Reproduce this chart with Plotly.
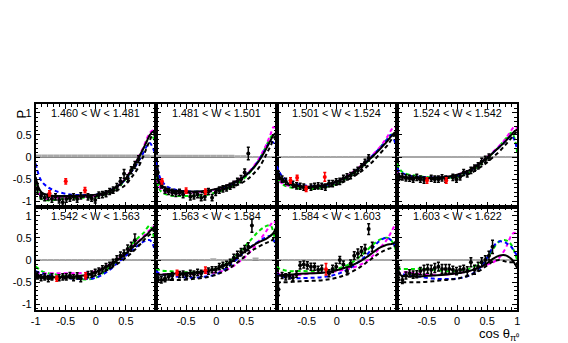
import plotly.graph_objects as go

# W bins (one panel each)
W_bins = ["1.460 < W < 1.481", "1.481 < W < 1.501", "1.501 < W < 1.524", "1.524 < W < 1.542",
          "1.542 < W < 1.563", "1.563 < W < 1.584", "1.584 < W < 1.603", "1.603 < W < 1.622"]

cos_curve = [-1.0, -0.95, -0.9, -0.8, -0.7, -0.6, -0.4, -0.2, 0.0, 0.2, 0.4, 0.5, 0.6, 0.7, 0.8, 0.85, 0.9, 0.95, 1.0]

# model curves, one list per panel
curve_solid = [
    [-0.45, -0.7, -0.8, -0.86, -0.88, -0.88, -0.88, -0.87, -0.85, -0.78, -0.62, -0.48, -0.28, -0.05, 0.22, 0.36, 0.5, 0.57, 0.5],
    [-0.3, -0.55, -0.65, -0.73, -0.76, -0.77, -0.78, -0.77, -0.72, -0.63, -0.5, -0.4, -0.27, -0.1, 0.12, 0.25, 0.38, 0.5, 0.55],
    [-0.35, -0.45, -0.52, -0.6, -0.64, -0.66, -0.67, -0.63, -0.55, -0.42, -0.22, -0.1, 0.02, 0.15, 0.3, 0.38, 0.46, 0.54, 0.58],
    [-0.4, -0.43, -0.45, -0.46, -0.47, -0.47, -0.47, -0.45, -0.4, -0.3, -0.12, -0.02, 0.1, 0.22, 0.35, 0.43, 0.5, 0.58, 0.62],
    [-0.35, -0.36, -0.37, -0.38, -0.39, -0.39, -0.38, -0.35, -0.27, -0.14, 0.04, 0.15, 0.27, 0.4, 0.52, 0.58, 0.65, 0.72, 0.78],
    [-0.33, -0.33, -0.33, -0.32, -0.31, -0.3, -0.29, -0.26, -0.2, -0.08, 0.12, 0.22, 0.32, 0.4, 0.46, 0.5, 0.55, 0.62, 0.78],
    [-0.35, -0.35, -0.34, -0.33, -0.32, -0.31, -0.3, -0.28, -0.23, -0.15, -0.02, 0.07, 0.17, 0.27, 0.33, 0.35, 0.36, 0.38, 0.45],
    [-0.2, -0.33, -0.36, -0.37, -0.37, -0.37, -0.35, -0.33, -0.3, -0.25, -0.15, -0.07, 0.03, 0.1, 0.11, 0.08, 0.03, -0.06, -0.18],
]
curve_dashed = [
    [-0.5, -0.72, -0.82, -0.88, -0.9, -0.9, -0.9, -0.9, -0.88, -0.83, -0.72, -0.62, -0.45, -0.25, 0.05, 0.22, 0.38, 0.52, 0.45],
    [-0.35, -0.58, -0.68, -0.76, -0.79, -0.8, -0.8, -0.79, -0.76, -0.7, -0.6, -0.52, -0.4, -0.25, -0.02, 0.12, 0.25, 0.42, 0.5],
    [-0.4, -0.5, -0.56, -0.63, -0.67, -0.69, -0.7, -0.68, -0.62, -0.5, -0.33, -0.22, -0.1, 0.05, 0.2, 0.28, 0.38, 0.48, 0.55],
    [-0.45, -0.47, -0.48, -0.5, -0.5, -0.5, -0.5, -0.48, -0.45, -0.38, -0.22, -0.12, 0.0, 0.12, 0.27, 0.35, 0.43, 0.52, 0.58],
    [-0.4, -0.4, -0.41, -0.42, -0.42, -0.42, -0.41, -0.4, -0.35, -0.22, -0.05, 0.05, 0.17, 0.3, 0.45, 0.52, 0.58, 0.65, 0.7],
    [-0.45, -0.45, -0.45, -0.45, -0.45, -0.45, -0.43, -0.4, -0.33, -0.2, 0.0, 0.12, 0.22, 0.3, 0.37, 0.4, 0.42, 0.5, 0.65],
    [-0.5, -0.5, -0.5, -0.5, -0.49, -0.48, -0.47, -0.45, -0.4, -0.3, -0.15, -0.05, 0.05, 0.15, 0.22, 0.25, 0.27, 0.3, 0.35],
    [-0.4, -0.47, -0.5, -0.5, -0.5, -0.5, -0.48, -0.45, -0.42, -0.35, -0.22, -0.12, -0.03, 0.0, -0.03, -0.05, -0.05, -0.05, -0.08],
]
curve_blue = [
    [-0.15, -0.4, -0.55, -0.68, -0.75, -0.8, -0.85, -0.86, -0.85, -0.78, -0.62, -0.5, -0.32, -0.12, 0.12, 0.25, 0.32, 0.2, 0.05],
    [-0.1, -0.4, -0.55, -0.68, -0.73, -0.76, -0.78, -0.78, -0.74, -0.65, -0.5, -0.4, -0.26, -0.08, 0.15, 0.27, 0.35, 0.32, 0.15],
    [-0.2, -0.35, -0.45, -0.55, -0.6, -0.63, -0.66, -0.64, -0.56, -0.42, -0.22, -0.1, 0.04, 0.18, 0.33, 0.42, 0.5, 0.4, 0.15],
    [-0.25, -0.33, -0.37, -0.42, -0.44, -0.45, -0.46, -0.46, -0.43, -0.32, -0.12, -0.02, 0.1, 0.22, 0.35, 0.42, 0.48, 0.4, 0.15],
    [-0.25, -0.28, -0.3, -0.33, -0.36, -0.38, -0.42, -0.43, -0.4, -0.25, -0.02, 0.1, 0.22, 0.33, 0.42, 0.45, 0.45, 0.35, 0.1],
    [-0.25, -0.3, -0.33, -0.35, -0.37, -0.38, -0.4, -0.38, -0.32, -0.15, 0.1, 0.22, 0.33, 0.42, 0.5, 0.53, 0.55, 0.45, 0.2],
    [-0.3, -0.35, -0.38, -0.4, -0.41, -0.41, -0.4, -0.38, -0.32, -0.2, 0.0, 0.12, 0.28, 0.42, 0.5, 0.5, 0.45, 0.35, 0.2],
    [-0.25, -0.3, -0.32, -0.35, -0.37, -0.38, -0.42, -0.43, -0.42, -0.35, -0.15, 0.05, 0.3, 0.42, 0.4, 0.35, 0.3, 0.2, 0.1],
]
curve_magenta = [
    [-0.5, -0.8, -0.9, -0.95, -0.93, -0.92, -0.9, -0.9, -0.87, -0.8, -0.62, -0.47, -0.27, -0.02, 0.25, 0.42, 0.55, 0.6, 0.5],
    [-0.35, -0.65, -0.75, -0.8, -0.82, -0.82, -0.8, -0.78, -0.73, -0.63, -0.48, -0.38, -0.24, -0.05, 0.2, 0.35, 0.52, 0.68, 0.6],
    [-0.4, -0.55, -0.6, -0.65, -0.67, -0.68, -0.67, -0.63, -0.55, -0.4, -0.2, -0.08, 0.06, 0.2, 0.38, 0.48, 0.6, 0.68, 0.65],
    [-0.35, -0.42, -0.45, -0.47, -0.48, -0.48, -0.47, -0.45, -0.4, -0.3, -0.12, 0.0, 0.12, 0.25, 0.4, 0.5, 0.6, 0.68, 0.65],
    [-0.3, -0.3, -0.3, -0.3, -0.3, -0.3, -0.3, -0.29, -0.25, -0.12, 0.05, 0.17, 0.3, 0.42, 0.55, 0.62, 0.68, 0.75, 0.78],
    [-0.3, -0.31, -0.32, -0.32, -0.32, -0.32, -0.32, -0.3, -0.28, -0.2, -0.02, 0.1, 0.25, 0.42, 0.6, 0.7, 0.8, 0.88, 0.8],
    [-0.3, -0.32, -0.33, -0.34, -0.34, -0.33, -0.3, -0.28, -0.25, -0.2, -0.1, -0.02, 0.1, 0.25, 0.4, 0.5, 0.62, 0.75, 0.85],
    [-0.3, -0.3, -0.28, -0.28, -0.3, -0.32, -0.33, -0.33, -0.3, -0.25, -0.15, -0.1, -0.05, 0.05, 0.25, 0.4, 0.55, 0.62, 0.55],
]
curve_green = [
    [-0.6, -0.85, -0.95, -0.98, -0.97, -0.95, -0.93, -0.92, -0.9, -0.82, -0.65, -0.5, -0.3, -0.05, 0.22, 0.38, 0.5, 0.45, 0.2],
    [-0.4, -0.7, -0.8, -0.86, -0.88, -0.88, -0.88, -0.86, -0.8, -0.7, -0.55, -0.43, -0.28, -0.08, 0.18, 0.32, 0.45, 0.5, 0.3],
    [-0.35, -0.55, -0.62, -0.68, -0.7, -0.71, -0.72, -0.68, -0.6, -0.45, -0.24, -0.12, 0.02, 0.18, 0.35, 0.43, 0.5, 0.55, 0.3],
    [-0.15, -0.28, -0.35, -0.4, -0.42, -0.44, -0.46, -0.47, -0.45, -0.35, -0.15, -0.03, 0.1, 0.24, 0.4, 0.48, 0.55, 0.45, 0.1],
    [-0.15, -0.2, -0.25, -0.3, -0.32, -0.34, -0.38, -0.44, -0.4, -0.2, 0.05, 0.2, 0.35, 0.5, 0.62, 0.72, 0.78, 0.6, 0.3],
    [-0.2, -0.22, -0.24, -0.25, -0.26, -0.27, -0.28, -0.26, -0.2, -0.05, 0.2, 0.35, 0.5, 0.65, 0.75, 0.78, 0.78, 0.6, 0.2],
    [-0.15, -0.2, -0.22, -0.25, -0.25, -0.25, -0.25, -0.23, -0.2, -0.1, 0.1, 0.22, 0.35, 0.45, 0.5, 0.5, 0.45, 0.35, 0.1],
    [-0.2, -0.2, -0.2, -0.2, -0.2, -0.2, -0.22, -0.25, -0.25, -0.2, -0.05, 0.05, 0.25, 0.42, 0.45, 0.42, 0.35, 0.2, 0.0],
]

# measured points (black)
cos_bins = [-0.97, -0.91, -0.85, -0.79, -0.73, -0.67, -0.61, -0.55, -0.49, -0.43, -0.37, -0.31, -0.25, -0.19, -0.13,
            -0.07, -0.01, 0.05, 0.11, 0.17, 0.23, 0.29, 0.35, 0.41, 0.47, 0.53, 0.59, 0.65, 0.71]
black_P = [
    [-0.72, -0.88, -0.92, -0.9, -0.95, -0.9, -0.97, -1.02, -0.95, -0.93, -0.9, -0.95, -0.88, None, -0.9,
     -0.93, -0.97, -0.86, -0.85, -0.83, -0.78, -0.75, -0.68, -0.55, -0.38, -0.48, -0.3, -0.18, -0.05],
    [-0.35, -0.62, -0.75, -0.78, -0.8, -0.82, -0.8, -0.85, None, -0.9, -0.88, -0.85, -0.92, -0.9, -0.78,
     -0.92, -0.8, -0.75, -0.72, -0.7, -0.66, -0.62, -0.55, -0.5, -0.35, 0.08, None, None, None],
    [-0.4, -0.5, -0.55, None, -0.62, -0.65, -0.66, -0.68, None, -0.68, -0.66, -0.65, -0.66, -0.68, -0.6,
     -0.6, -0.56, -0.55, -0.48, -0.45, -0.42, -0.35, -0.3, -0.22, -0.12, -0.02, None, None, None],
    [-0.45, -0.45, -0.47, -0.48, -0.5, -0.46, -0.5, -0.52, None, -0.48, -0.5, -0.5, -0.47, -0.5, None,
     -0.46, -0.5, -0.45, -0.35, -0.38, -0.3, -0.25, -0.2, -0.1, -0.05, 0.0, None, None, None],
    [-0.35, -0.4, -0.38, -0.42, -0.38, None, -0.4, -0.38, -0.38, -0.35, -0.4, -0.36, -0.42, None, -0.33,
     -0.32, -0.28, -0.25, -0.2, -0.15, -0.12, -0.05, 0.02, 0.1, 0.15, 0.25, 0.3, 0.45, None],
    [-0.4, -0.45, -0.42, -0.38, -0.35, None, -0.33, -0.32, -0.35, -0.3, -0.32, -0.28, -0.3, None, -0.25,
     -0.22, -0.22, -0.15, -0.12, -0.1, -0.05, 0.05, 0.12, 0.18, 0.25, 0.3, 0.78, None, None],
    [-0.66, -0.35, -0.38, -0.36, -0.4, -0.32, -0.12, -0.1, -0.12, -0.15, -0.15, -0.22, -0.2, None, -0.3,
     -0.2, -0.15, 0.0, -0.1, -0.25, -0.08, 0.1, 0.15, 0.2, 0.25, 0.7, 0.3, None, None],
    [-0.3, -0.45, -0.35, -0.3, -0.33, -0.32, -0.25, -0.22, -0.2, -0.22, -0.18, -0.15, -0.2, -0.2, -0.2,
     -0.22, -0.25, -0.22, -0.2, -0.25, -0.05, -0.22, -0.15, -0.05, 0.0, 0.1, 0.3, None, None],
]
black_err = [
    [0.12, 0.07, 0.07, 0.07, 0.07, 0.07, 0.07, 0.07, 0.07, 0.07, 0.07, 0.07, 0.07, 0.07, 0.07,
     0.07, 0.07, 0.07, 0.07, 0.07, 0.07, 0.07, 0.08, 0.08, 0.1, 0.08, 0.08, 0.08, 0.08],
    [0.15, 0.08, 0.07, 0.07, 0.07, 0.07, 0.07, 0.07, 0.07, 0.07, 0.07, 0.07, 0.07, 0.07, 0.07,
     0.07, 0.07, 0.07, 0.07, 0.07, 0.07, 0.07, 0.07, 0.08, 0.08, 0.14, 0.08, 0.08, 0.08],
    [0.08, 0.07, 0.07, 0.07, 0.07, 0.07, 0.07, 0.07, 0.07, 0.07, 0.07, 0.07, 0.07, 0.07, 0.07,
     0.07, 0.07, 0.07, 0.07, 0.07, 0.07, 0.07, 0.07, 0.07, 0.07, 0.07, 0.07, 0.07, 0.07],
    [0.08, 0.07, 0.07, 0.07, 0.07, 0.07, 0.07, 0.07, 0.07, 0.07, 0.07, 0.07, 0.07, 0.07, 0.07,
     0.07, 0.07, 0.07, 0.07, 0.07, 0.07, 0.07, 0.07, 0.07, 0.07, 0.07, 0.07, 0.07, 0.07],
    [0.08, 0.07, 0.07, 0.07, 0.07, 0.07, 0.07, 0.07, 0.07, 0.07, 0.07, 0.07, 0.07, 0.07, 0.07,
     0.07, 0.07, 0.07, 0.07, 0.07, 0.07, 0.07, 0.08, 0.08, 0.08, 0.09, 0.1, 0.14, 0.08],
    [0.08, 0.07, 0.07, 0.07, 0.07, 0.07, 0.07, 0.07, 0.07, 0.07, 0.07, 0.07, 0.07, 0.07, 0.07,
     0.07, 0.07, 0.07, 0.07, 0.07, 0.07, 0.08, 0.08, 0.08, 0.08, 0.09, 0.15, 0.08, 0.08],
    [0.14, 0.07, 0.07, 0.07, 0.07, 0.07, 0.08, 0.08, 0.08, 0.08, 0.08, 0.08, 0.08, 0.08, 0.08,
     0.08, 0.08, 0.08, 0.08, 0.08, 0.08, 0.09, 0.1, 0.1, 0.1, 0.12, 0.1, 0.08, 0.08],
    [0.14, 0.08, 0.08, 0.08, 0.08, 0.08, 0.08, 0.1, 0.1, 0.1, 0.1, 0.1, 0.1, 0.1, 0.1,
     0.08, 0.08, 0.08, 0.08, 0.1, 0.1, 0.1, 0.1, 0.1, 0.1, 0.1, 0.15, 0.08, 0.08],
]

# second data set (red)
red_cos = [[-0.77, -0.5, -0.18], [-0.9, -0.5, -0.18], [-0.77, -0.66, -0.51, -0.2], [-0.5, -0.18],
           [-0.65, -0.17], [-0.65, -0.18], [-0.18], []]
red_P = [[-0.82, -0.55, -0.75], [-0.55, -0.76, -0.78], [-0.53, -0.47, -0.72, -0.45], [-0.53, -0.53],
         [-0.42, -0.36], [-0.29, -0.23], [-0.21], []]
red_err = [[0.06, 0.06, 0.06], [0.06, 0.06, 0.06], [0.06, 0.06, 0.06, 0.1], [0.06, 0.06],
           [0.06, 0.07], [0.06, 0.07], [0.13], []]

# systematic uncertainty (grey bars)
sys_cos = [-0.95, -0.85, -0.75, -0.65, -0.55, -0.45, -0.35, -0.25, -0.15, -0.05,
           0.05, 0.15, 0.25, 0.35, 0.45, 0.55, 0.65, 0.75, 0.85, 0.95]
sys_P = [
    [0.06, 0.06, 0.06, 0.06, 0.06, 0.06, 0.06, 0.06, 0.06, 0.06, 0.06, 0.06, 0.06, 0.06, 0.06, 0.06, 0.06, 0.06, 0.06, 0.04],
    [0.05, 0.05, 0.05, 0.05, 0.05, 0.05, 0.05, 0.05, 0.05, 0.05, 0.05, 0.05, 0.05, 0.04, 0.04, 0.02, 0.02, 0.02, 0.02, 0.02],
    [0.02, 0.02, 0.02, 0.02, 0.02, 0.02, 0.02, 0.02, 0.02, 0.02, 0.02, 0.02, 0.02, 0.02, 0.02, 0.02, 0.02, 0.02, 0.02, 0.02],
    [0.02, 0.02, 0.02, 0.02, 0.02, 0.02, 0.02, 0.02, 0.02, 0.02, 0.02, 0.02, 0.02, 0.02, 0.02, 0.02, 0.02, 0.02, 0.02, 0.02],
    [0.02, 0.02, 0.02, 0.02, 0.02, 0.02, 0.02, 0.02, 0.02, 0.02, 0.02, 0.02, 0.02, 0.02, 0.02, 0.02, 0.02, 0.02, 0.02, 0.02],
    [0.02, 0.02, 0.02, 0.02, 0.02, 0.02, 0.02, 0.02, 0.02, 0.04, 0.02, 0.02, 0.02, 0.02, 0.02, 0.02, 0.06, 0.02, 0.02, 0.02],
    [0.02, 0.02, 0.02, 0.02, 0.02, 0.02, 0.02, 0.02, 0.02, 0.02, 0.02, 0.02, 0.02, 0.02, 0.02, 0.02, 0.02, 0.02, 0.02, 0.02],
    [0.02, 0.02, 0.02, 0.02, 0.02, 0.02, 0.02, 0.02, 0.02, 0.02, 0.02, 0.02, 0.02, 0.02, 0.02, 0.02, 0.02, 0.02, 0.02, 0.02],
]

# page body has an 8px margin, so the figure is 8px smaller and everything is placed 8px up/left
PAD = 8
W, H = 568 - PAD, 343 - PAD
col_px = [p - PAD for p in [31, 153, 275.5, 397.5, 519.5]]
row_px = [p - PAD for p in [104, 207, 310]]
FONT = "Liberation Sans, Arial, sans-serif"
DASH = "4px,3px"

fig = go.Figure()

for i in range(8):
    n = i + 1
    xa, ya = ("x%d" % n if n > 1 else "x"), ("y%d" % n if n > 1 else "y")
    fig.add_trace(go.Bar(x=sys_cos, y=sys_P[i], base=0, width=0.1, marker=dict(color="#a8a8a8", line_width=0),
                         xaxis=xa, yaxis=ya, showlegend=False))
    for vals, col, dash in [(curve_green[i], "#00e000", DASH), (curve_magenta[i], "#ff00ff", DASH),
                            (curve_blue[i], "#0000ff", DASH), (curve_dashed[i], "black", DASH),
                            (curve_solid[i], "black", "solid")]:
        fig.add_trace(go.Scatter(x=cos_curve, y=vals, mode="lines", line=dict(color=col, width=2, dash=dash, shape="spline"),
                                 xaxis=xa, yaxis=ya, showlegend=False))
    fig.add_trace(go.Scatter(x=cos_bins, y=black_P[i], mode="markers",
                             marker=dict(color="black", size=4),
                             error_y=dict(type="data", array=black_err[i], color="black", thickness=1.5, width=1.5),
                             xaxis=xa, yaxis=ya, showlegend=False))
    if red_cos[i]:
        fig.add_trace(go.Scatter(x=red_cos[i], y=red_P[i], mode="markers",
                                 marker=dict(color="red", size=4),
                                 error_y=dict(type="data", array=red_err[i], color="red", thickness=1.5, width=1.5),
                                 xaxis=xa, yaxis=ya, showlegend=False))

layout = dict(width=W, height=H, margin=dict(l=0, r=0, t=0, b=0), paper_bgcolor="white", plot_bgcolor="white",
              barmode="overlay", font=dict(family=FONT, size=11, color="black"))
annotations = []
for i in range(8):
    r, c = divmod(i, 4)
    n = i + 1
    xdom = [col_px[c] / W, col_px[c + 1] / W]
    ydom = [1 - row_px[r + 1] / H, 1 - row_px[r] / H]
    if r == 1 and c == 0:
        xt = [-1, -0.5, 0, 0.5]
    elif r == 1 and c == 3:
        xt = [-0.5, 0, 0.5, 1]
    else:
        xt = [-0.5, 0, 0.5]
    common = dict(showline=True, linewidth=1.5, linecolor="black", mirror="ticks", ticks="inside",
                  ticklen=5, tickwidth=1, tickcolor="black", showgrid=False,
                  minor=dict(ticks="inside", ticklen=3, dtick=0.1, tickcolor="black", showgrid=False),
                  tickfont=dict(family=FONT, size=11, color="black"))
    layout["xaxis%d" % n] = dict(common, domain=xdom, range=[-1, 1], anchor="y%d" % n,
                                 tickvals=xt, ticktext=[("%g" % v) for v in xt],
                                 showticklabels=(r == 1), zeroline=False)
    layout["yaxis%d" % n] = dict(common, domain=ydom, range=[-1.13, 1.2], anchor="x%d" % n,
                                 tickvals=[-1, -0.5, 0, 0.5, 1], ticktext=["-1", "-0.5", "0", "0.5", "1"],
                                 showticklabels=(c == 0), zeroline=True, zerolinecolor="#8a8a8a", zerolinewidth=1.2)
    annotations.append(dict(text=W_bins[i], xref="paper", yref="paper",
                            x=(xdom[0] + xdom[1]) / 2, y=ydom[1] - 1 / H, xanchor="center", yanchor="top",
                            showarrow=False, font=dict(family=FONT, size=10.8, color="black")))

annotations.append(dict(text="P", xref="paper", yref="paper", x=0, y=1 - (114 - PAD) / H, textangle=-90,
                        xanchor="left", yanchor="middle", borderpad=0, showarrow=False, font=dict(family=FONT, size=13)))
annotations.append(dict(text="cos θ<sub>π⁰</sub>", xref="paper", yref="paper", x=(523 - PAD) / W, y=1 - (334 - PAD) / H,
                        xanchor="right", yanchor="middle", showarrow=False, font=dict(family=FONT, size=13)))
layout["xaxis"] = layout.pop("xaxis1")
layout["yaxis"] = layout.pop("yaxis1")
layout["xaxis"]["anchor"] = "y"
layout["yaxis"]["anchor"] = "x"
layout["annotations"] = annotations
fig.update_layout(**layout)

fig.write_html("out.html")
